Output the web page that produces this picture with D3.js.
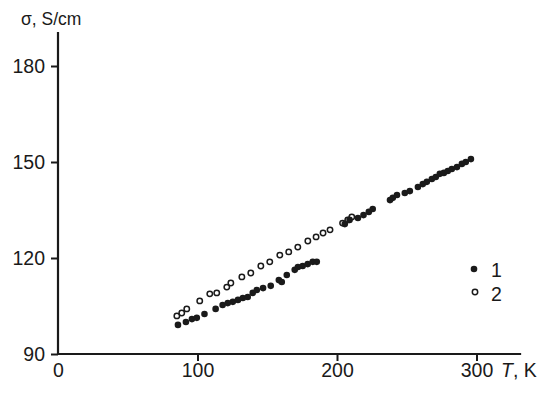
<!DOCTYPE html>
<html>
<head>
<meta charset="utf-8">
<script src="https://cdn.jsdelivr.net/npm/d3@7"></script>
<style>
  body { margin: 0; background: #fff; }
  text { font-family: "Liberation Sans", Arial, sans-serif; fill: #1a1a1a; }
</style>
</head>
<body>
<div id="chart"></div>
<script>
// series 1 (filled dots): temperature K, conductivity S/cm
var temp1 = [86, 91.7, 96, 99.5, 105, 113, 118, 121.7, 125.3, 129, 132.5, 136, 139.6, 142.5, 147, 152.5, 158.3, 160.4, 164, 169.7, 172, 175.4, 179, 182.6, 185.5,
             205.6, 209, 215, 219, 222.8, 225.6,
             238, 240, 243, 248.6, 252.2, 258, 261.5, 264.4, 268, 270.8, 273.7, 276.6, 279.4, 282.3, 286, 289.5, 292.3, 296];
var sigma1 = [99.1, 100, 100.9, 101.3, 102.5, 104.1, 105.3, 105.9, 106.3, 106.9, 107.5, 107.8, 109.1, 110, 110.6, 111.3, 113.1, 112.5, 114.7, 116.3, 117.2, 117.5, 118.1, 118.8, 118.8,
              130.6, 131.9, 132.5, 133.4, 134.4, 135.3,
              138.1, 138.8, 139.7, 140.3, 140.9, 142.2, 143.1, 143.8, 144.7, 145.3, 146.3, 146.6, 147.2, 147.8, 148.4, 149.4, 150, 150.9];

// series 2 (open circles)
var temp2 = [85.2, 88.7, 92.3, 101.6, 108.8, 113.8, 121, 123.9, 131.8, 138.2, 145.4, 151.8, 159, 165.4, 171.9, 179.1, 185, 190, 195, 204, 207.7, 210.6];
var sigma2 = [101.9, 102.8, 104.1, 106.6, 108.8, 109.1, 110.9, 112.2, 114.1, 115.3, 117.5, 118.8, 120.9, 121.9, 123.4, 125.3, 126.6, 127.8, 128.8, 130.9, 131.9, 132.8];

var xTicks = [0, 100, 200, 300];
var yTicks = [90, 120, 150, 180];
var legendLabels = ["1", "2"];

var width = 550, height = 395;

var svg = d3.select("#chart").append("svg")
    .attr("width", width)
    .attr("height", height);

var x = d3.scaleLinear().domain([0, 300]).range([58, 476.5]);
var y = d3.scaleLinear().domain([90, 180]).range([354, 66]);

var ink = "#1a1a1a";
var fs = 19.5;

// y axis
var yAxis = svg.append("g")
    .attr("transform", "translate(" + x(0) + ",0)")
    .call(d3.axisLeft(y).tickValues(yTicks).tickSize(7).tickPadding(6));
yAxis.select(".domain").remove();
yAxis.selectAll("line").attr("stroke", ink).attr("stroke-width", 2);
yAxis.selectAll("text")
    .attr("font-size", fs)
    .attr("font-family", "Liberation Sans, Arial, sans-serif")
    .attr("fill", ink);

// x axis
var xAxis = svg.append("g")
    .attr("transform", "translate(0," + y(90) + ")")
    .call(d3.axisBottom(x).tickValues(xTicks).tickSize(7).tickPadding(2));
xAxis.select(".domain").remove();
xAxis.selectAll("line").attr("stroke", ink).attr("stroke-width", 2)
    .filter(function(d) { return d === 0; }).remove();
xAxis.selectAll("text")
    .attr("font-size", fs)
    .attr("font-family", "Liberation Sans, Arial, sans-serif")
    .attr("fill", ink);

// axis lines
svg.append("line")
    .attr("x1", x(0)).attr("x2", x(0))
    .attr("y1", y(90) + 1).attr("y2", y(190.6))
    .attr("stroke", ink).attr("stroke-width", 2.2);
svg.append("line")
    .attr("x1", x(0) - 1).attr("x2", x(332))
    .attr("y1", y(90)).attr("y2", y(90))
    .attr("stroke", ink).attr("stroke-width", 2.2);

// axis titles
svg.append("text")
    .attr("x", 21).attr("y", 25)
    .attr("font-size", 17.5)
    .text("σ, S/cm");

var xt = svg.append("text")
    .attr("x", 501).attr("y", 377)
    .attr("font-size", fs);
xt.append("tspan").attr("font-style", "italic").text("T");
xt.append("tspan").text(", K");

// data
var d1 = temp1.map(function(t, i) { return [t, sigma1[i]]; });
var d2 = temp2.map(function(t, i) { return [t, sigma2[i]]; });

svg.append("g").selectAll("circle")
    .data(d2)
    .enter().append("circle")
    .attr("cx", function(d) { return x(d[0]); })
    .attr("cy", function(d) { return y(d[1]); })
    .attr("r", 2.7)
    .attr("fill", "none")
    .attr("stroke", ink)
    .attr("stroke-width", 1.5);

svg.append("g").selectAll("circle")
    .data(d1)
    .enter().append("circle")
    .attr("cx", function(d) { return x(d[0]); })
    .attr("cy", function(d) { return y(d[1]); })
    .attr("r", 3.3)
    .attr("fill", ink);

// legend
var legend = svg.append("g");
legend.append("circle").attr("cx", 474).attr("cy", 269).attr("r", 3.3).attr("fill", ink);
legend.append("circle").attr("cx", 475).attr("cy", 292).attr("r", 2.7)
    .attr("fill", "none").attr("stroke", ink).attr("stroke-width", 1.5);
legend.selectAll("text")
    .data(legendLabels)
    .enter().append("text")
    .attr("x", 491)
    .attr("y", function(d, i) { return 277 + i * 24; })
    .attr("font-size", fs)
    .text(function(d) { return d; });
</script>
</body>
</html>
